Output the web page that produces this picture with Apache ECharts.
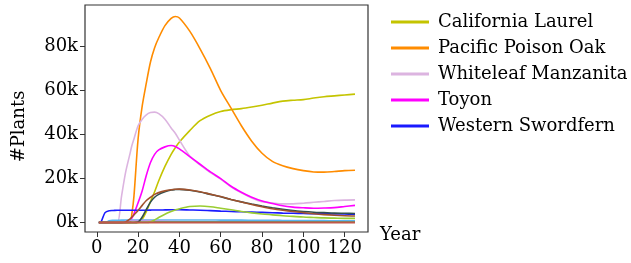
<!DOCTYPE html>
<html>
<head>
<meta charset="utf-8">
<script src="https://cdn.jsdelivr.net/npm/echarts@6/dist/echarts.min.js"></script>
<style>html,body{margin:0;padding:0;background:#fff}#c{width:631px;height:263px}</style>
</head>
<body>
<div id="c"></div>
<script>
const years = [1,2,4,6,8,10,12,14,16,17,18,20,22,24,26,28,30,33,36,38,40,45,50,55,60,65,70,75,80,85,90,95,100,105,110,115,120,125];

const californiaLaurel = [0,0,0,0,0,0,0,0,0,0,0,0,1500,5000,9500,14000,19000,25500,31000,34000,36600,41800,46300,48800,50500,51300,51800,52500,53300,54300,55200,55600,55900,56600,57200,57600,58000,58400];
const pacificPoisonOak = [0,0,0,0,0,0,0,0,0,4000,12000,38000,53000,63500,73000,79500,84000,89500,92800,93700,93000,87000,79000,70000,60000,52000,44000,37000,31500,27800,25800,24500,23600,23000,22900,23200,23600,23800];
const whiteleafManzanita = [0,0,0,0,0,0,12000,23000,31000,35000,38000,44000,47000,49000,50000,50200,49500,47000,43000,40600,37500,30300,26200,22700,19700,16200,13500,11200,9500,8900,8500,8500,8800,9200,9600,10000,10200,10300];
const toyon = [0,0,0,0,0,0,0,0,1000,2000,4000,9000,14500,21500,27300,31000,33000,34400,35000,34600,33500,30000,26500,23000,20000,16500,13800,11500,9800,8700,7600,7000,6700,6500,6600,6800,7300,7800];
const westernSwordfern = [0,200,4500,5400,5500,5600,5600,5600,5600,5600,5600,5600,5600,5600,5650,5700,5700,5750,5800,5800,5800,5700,5600,5400,5200,5050,4900,4750,4600,4450,4300,4200,4100,4000,3950,3900,3850,3800];
const lightBlue = [0,0,0,800,1000,1050,1100,1100,1100,1100,1100,1100,1150,1150,1150,1150,1150,1150,1150,1150,1150,1150,1150,1150,1100,1100,1100,1050,1000,1000,950,900,900,850,850,800,800,800];
const lavender = [0,0,0,0,0,0,0,600,900,900,900,900,900,900,900,800,700,600,500,450,400,350,300,300,300,300,300,300,300,300,300,300,300,300,300,300,300,300];
const seaGreen = [0,0,0,0,0,0,0,0,0,0,0,100,200,250,300,300,300,300,300,300,300,300,300,300,300,300,300,300,300,300,300,300,300,300,300,300,300,300];
const yellowGreen = [0,0,0,0,0,0,0,0,0,0,0,0,0,0,300,1200,2300,3800,5000,5700,6300,7300,7500,7200,6500,5800,5000,4400,3900,3500,3100,2800,2500,2300,2100,2000,1900,1900];
const darkSlate = [0,0,0,0,0,0,0,0,0,0,0,200,2500,6000,9300,11500,12800,14000,14800,15000,15100,14700,13900,12800,11700,10500,9400,8400,7500,6700,6000,5400,5000,4700,4500,4300,4200,4100];
const sienna = [0,0,0,0,0,0,0,300,1500,2500,3500,5500,7800,10000,11500,12800,13600,14400,14900,15100,15200,14800,14000,12900,11800,10500,9300,8200,7200,6300,5600,5000,4500,4000,3600,3300,3100,3000];
const baseline = years.map(() => 0);

const xTicks = [0,20,40,60,80,100,120];
const yTicks = [0,20000,40000,60000,80000];

const FONT = 'DejaVu Serif';
function pts(vals){ return years.map((y,i)=>[y, vals[i]]); }
function line(name, vals, color, width){
  return {name, type:'line', data:pts(vals), showSymbol:false, symbol:'none', smooth:0.3,
    lineStyle:{color, width: width||1.6}, itemStyle:{color}, emphasis:{disabled:true}, silent:true, animation:false};
}
const chart = echarts.init(document.getElementById('c'), null, {renderer:'canvas'});
chart.setOption({
  animation:false,
  backgroundColor:'#fff',
  grid:{left:85, top:5, right:263, bottom:31, show:true, borderColor:'#333', borderWidth:1.2, backgroundColor:'transparent'},
  xAxis:{type:'value', min:-5.7, max:131.3,
    name:'Year', nameLocation:'end', nameGap:12,
    nameTextStyle:{fontFamily:FONT, fontSize:18, color:'#000', verticalAlign:'top', padding:[-6,0,0,0]},
    axisLine:{show:false, onZero:false}, splitLine:{show:false},
    axisTick:{show:true, customValues:xTicks, length:5, lineStyle:{color:'#333'}},
    axisLabel:{customValues:xTicks, fontFamily:FONT, fontSize:18, color:'#000', margin:7}},
  yAxis:{type:'value', min:-4300, max:98900,
    name:'#Plants', nameLocation:'middle', nameGap:57, nameRotate:90,
    nameTextStyle:{fontFamily:FONT, fontSize:18, color:'#000', padding:[0,0,0,-16]},
    axisLine:{show:false, onZero:false}, splitLine:{show:false},
    axisTick:{show:true, customValues:yTicks, length:5, lineStyle:{color:'#333'}},
    axisLabel:{customValues:yTicks, fontFamily:FONT, fontSize:18, color:'#000', margin:7,
      formatter:v=>(v/1000)+'k'}},
  legend:{orient:'vertical', left:386, top:8, itemWidth:38, itemHeight:3, itemGap:8, icon:'rect',
    data:['California Laurel','Pacific Poison Oak','Whiteleaf Manzanita','Toyon','Western Swordfern'],
    textStyle:{fontFamily:FONT, fontSize:18, color:'#000', lineHeight:18, padding:[0,0,0,4]}, selectedMode:false},
  series:[
    line('California Laurel', californiaLaurel, '#c4c400'),
    line('Pacific Poison Oak', pacificPoisonOak, '#ff8c00'),
    line('Whiteleaf Manzanita', whiteleafManzanita, '#dcb4e0'),
    line('Toyon', toyon, '#ff00ff'),
    line('Western Swordfern', westernSwordfern, '#1a1aff'),
    line('light blue', lightBlue, '#5ab4f0'),
    line('lavender', lavender, '#b49ee6'),
    line('sea green', seaGreen, '#5aa878'),
    line('yellow green', yellowGreen, '#9acd32'),
    line('dark slate', darkSlate, '#2f4f4f'),
    line('sienna', sienna, '#a0522d'),
    line('baseline', baseline, '#c0584a', 2)
  ]
});
</script>
</body>
</html>
